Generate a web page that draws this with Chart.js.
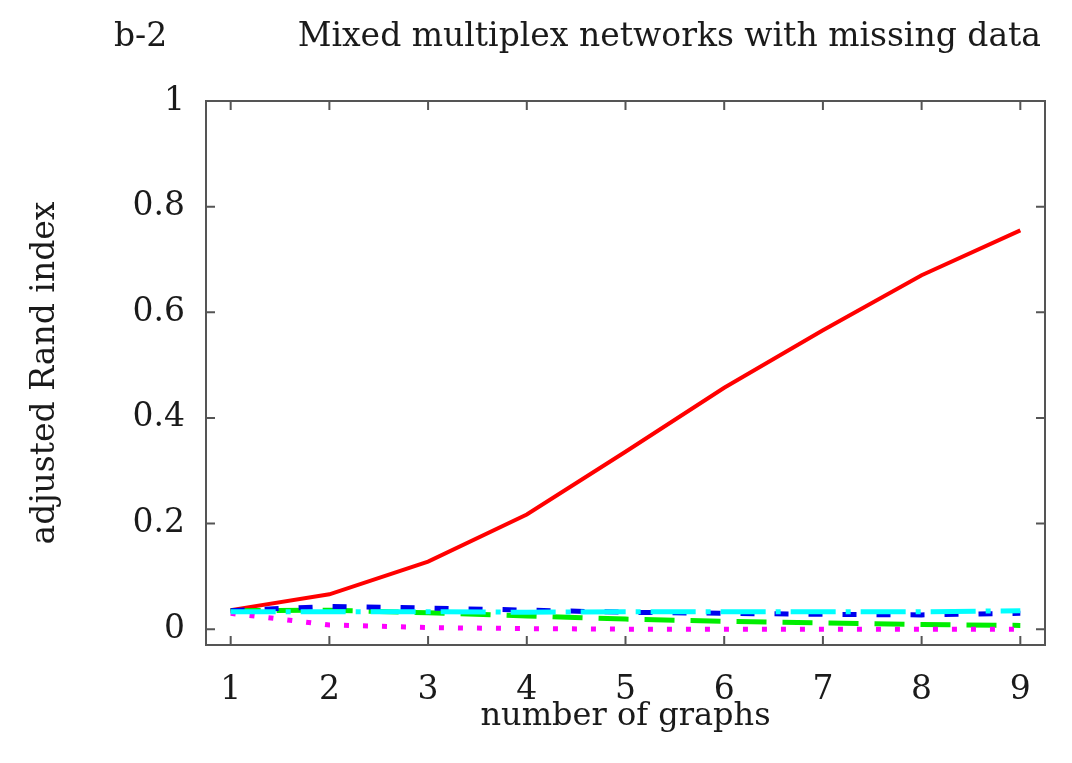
<!DOCTYPE html>
<html>
<head>
<meta charset="utf-8">
<script src="https://cdn.jsdelivr.net/npm/chart.js@4.4.1/dist/chart.umd.min.js"></script>
<style>
html,body{margin:0;padding:0;background:#fff;}
canvas{display:block;}
</style>
</head>
<body>
<canvas id="c" width="1072" height="763"></canvas>
<script>
const panelLabel = "b-2";
const chartTitle = "Mixed multiplex networks with missing data";
const xTitle = "number of graphs";
const yTitle = "adjusted Rand index";
const graphs = [1, 2, 3, 4, 5, 6, 7, 8, 9];
const xTicks = [1, 2, 3, 4, 5, 6, 7, 8, 9];
const yTicks = [0, 0.2, 0.4, 0.6, 0.8, 1];
const redSeries     = [0.036, 0.066, 0.128, 0.217, 0.336, 0.457, 0.566, 0.670, 0.755];
const greenSeries   = [0.035, 0.036, 0.031, 0.025, 0.019, 0.015, 0.012, 0.009, 0.007];
const blueSeries    = [0.035, 0.043, 0.040, 0.036, 0.032, 0.030, 0.028, 0.027, 0.030];
const magentaSeries = [0.030, 0.008, 0.003, 0.001, 0.000, 0.000, 0.000, 0.000, 0.000];
const cyanSeries    = [0.033, 0.033, 0.033, 0.032, 0.033, 0.033, 0.033, 0.033, 0.035];

const FONT = "'DejaVu Serif', serif";
const TXT = '#1a1a1a';

function pts(arr){ return graphs.map((g,i)=>({x:g, y:arr[i]})); }

const framePlugin = {
  id: 'frame',
  afterDraw(chart){
    const ctx = chart.ctx, a = chart.chartArea;
    const xs = chart.scales.x, ys = chart.scales.y;
    ctx.save();
    ctx.strokeStyle = '#555';
    ctx.lineWidth = 2;
    ctx.strokeRect(a.left, a.top, a.right - a.left, a.bottom - a.top);
    const L = 9;
    ctx.beginPath();
    xTicks.forEach(v=>{
      const px = xs.getPixelForValue(v);
      ctx.moveTo(px, a.bottom); ctx.lineTo(px, a.bottom - L);
      ctx.moveTo(px, a.top); ctx.lineTo(px, a.top + L);
    });
    yTicks.forEach(v=>{
      const py = ys.getPixelForValue(v);
      ctx.moveTo(a.left, py); ctx.lineTo(a.left + L, py);
      ctx.moveTo(a.right, py); ctx.lineTo(a.right - L, py);
    });
    ctx.stroke();
    ctx.fillStyle = TXT;
    ctx.font = "33px " + FONT;
    ctx.textBaseline = 'alphabetic';
    ctx.textAlign = 'left';
    ctx.fillText(panelLabel, 114, 46);
    ctx.textAlign = 'right';
    ctx.fillText(chartTitle, 1041, 46);
    ctx.restore();
  }
};

new Chart(document.getElementById('c'), {
  type: 'line',
  data: {
    datasets: [
      {label:'red', data: pts(redSeries), borderColor:'#ff0000', borderWidth:4, order:4},
      {label:'green', data: pts(greenSeries), borderColor:'#00ee00', borderWidth:5, borderDash:[30,16], order:3},
      {label:'blue', data: pts(blueSeries), borderColor:'#0000ee', borderWidth:5, borderDash:[14,20], order:2},
      {label:'magenta', data: pts(magentaSeries), borderColor:'#ff00ff', borderWidth:5, borderDash:[5,14], order:1},
      {label:'cyan', data: pts(cyanSeries), borderColor:'#00ffff', borderWidth:5, borderDash:[45,10,5,10], order:0}
    ]
  },
  options: {
    responsive: false,
    animation: false,
    events: [],
    layout: {padding: {left: 0, top: 101, right: 27, bottom: 0}},
    elements: {point: {radius: 0}, line: {tension: 0, fill: false, borderCapStyle:'butt'}},
    plugins: {legend: {display: false}, tooltip: {enabled: false}, title: {display: false}},
    scales: {
      x: {
        type: 'linear', min: 0.75, max: 9.25,
        afterBuildTicks(s){ s.ticks = xTicks.map(v=>({value:v})); },
        afterFit(s){ s.height = 118; },
        grid: {display: false, drawTicks: false},
        border: {display: false},
        ticks: {color: TXT, font: {family: FONT, size: 33}, padding: 26, callback: v => String(v), maxRotation: 0},
        title: {display: true, text: xTitle, color: TXT, font: {family: FONT, size: 32}, padding: {top: 0, bottom: 27}}
      },
      y: {
        type: 'linear', min: -0.03, max: 1,
        afterBuildTicks(s){ s.ticks = yTicks.map(v=>({value:v})); },
        afterFit(s){ s.width = 206; },
        grid: {display: false, drawTicks: false},
        border: {display: false},
        ticks: {color: TXT, font: {family: FONT, size: 33}, padding: 21, callback: v => String(Math.round(v*10)/10)},
        title: {display: true, text: yTitle, color: TXT, font: {family: FONT, size: 33}, padding: {top: 26, bottom: 0}}
      }
    }
  },
  plugins: [framePlugin]
});
</script>
</body>
</html>
